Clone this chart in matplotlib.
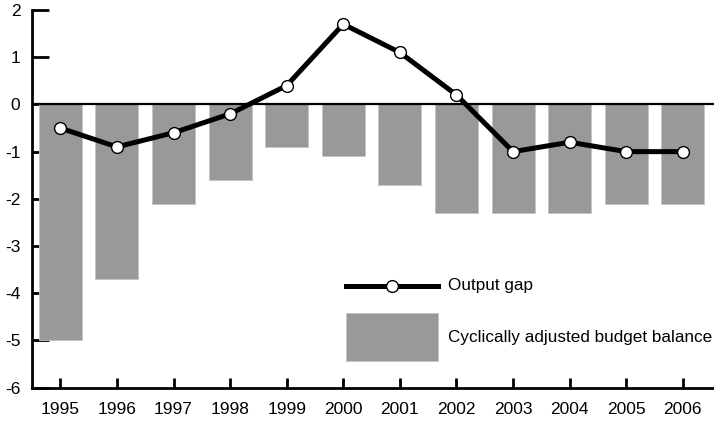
import matplotlib
matplotlib.use("Agg")
import matplotlib.pyplot as plt
from matplotlib import font_manager as fm
from matplotlib.legend_handler import HandlerLine2D

years = ["1995", "1996", "1997", "1998", "1999", "2000", "2001", "2002", "2003", "2004", "2005", "2006"]
budget_balance = [-5.0, -3.7, -2.1, -1.6, -0.9, -1.1, -1.7, -2.3, -2.3, -2.3, -2.1, -2.1]
output_gap = [-0.5, -0.9, -0.6, -0.2, 0.4, 1.7, 1.1, 0.2, -1.0, -0.8, -1.0, -1.0]
y_ticks = [2, 1, 0, -1, -2, -3, -4, -5, -6]

names = {f.name for f in fm.fontManager.ttflist}
fam = [f for f in ["Liberation Sans Narrow", "Liberation Sans", "DejaVu Sans"] if f in names]
plt.rcParams["font.family"] = fam
plt.rcParams["axes.unicode_minus"] = False


class ShiftedLineHandler(HandlerLine2D):
    def __init__(self, shift=0.0, **kw):
        super().__init__(**kw)
        self._shift = shift

    def create_artists(self, legend, orig_handle, xdescent, ydescent, width,
                       height, fontsize, trans):
        arts = super().create_artists(legend, orig_handle, xdescent, ydescent,
                                      width, height, fontsize, trans)
        for a in arts:
            a.set_ydata([y - self._shift for y in a.get_ydata()])
        return arts


fig = plt.figure(figsize=(7.14, 4.22), dpi=100)
ax = fig.add_axes([32.3 / 714, 1 - 387.7 / 422, 1 - 32.3 / 714, (387.7 - 10) / 422])

x = list(range(len(years)))
bars = ax.bar(x, budget_balance, width=0.76, color="#999999", edgecolor="#c4c4c4",
              linewidth=0.6, zorder=2, label="Cyclically adjusted budget balance")
ax.axhline(0, color="black", lw=1.6, zorder=3)
line, = ax.plot(x, output_gap, color="black", lw=3.6, marker="o", markersize=8.5,
                markerfacecolor="white", markeredgecolor="black", markeredgewidth=1.0,
                zorder=4, label="Output gap")

ax.set_xlim(-0.495, 11.55)
ax.set_ylim(-6, 2)
ax.set_xticks(x)
ax.set_xticklabels(years)
ax.set_yticks(y_ticks)
ax.set_yticklabels([str(v) for v in y_ticks])

for s in ["top", "right"]:
    ax.spines[s].set_visible(False)
for s in ["left", "bottom"]:
    ax.spines[s].set_linewidth(2.0)
ax.tick_params(axis="y", direction="in", length=12, width=2.0, pad=8.5, labelsize=12.5)
ax.tick_params(axis="x", direction="in", length=7, width=2.0, pad=10, labelsize=12.5)

leg = fig.legend([line, bars], ["Output gap", "Cyclically adjusted budget balance"],
                 loc="upper left", bbox_to_anchor=(346 / 714, 1 - 261.5 / 422),
                 frameon=False, fontsize=12.3, handlelength=5.4, handleheight=3.9,
                 labelspacing=0.25, handletextpad=0.55, borderpad=0, borderaxespad=0,
                 handler_map={line: ShiftedLineHandler(shift=7.5)})

fig.savefig("out.png", dpi=100)
